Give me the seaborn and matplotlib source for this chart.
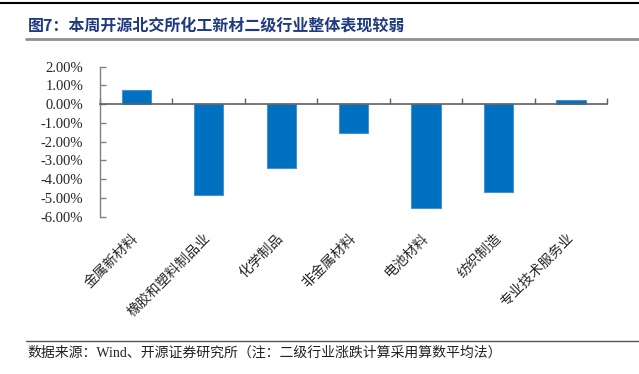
import matplotlib
matplotlib.use("Agg")
import matplotlib.pyplot as plt
import seaborn as sns
from matplotlib.lines import Line2D
from matplotlib.ticker import FixedLocator, FuncFormatter

categories = ["金属新材料", "橡胶和塑料制品业", "化学制品", "非金属材料",
              "电池材料", "纺织制造", "专业技术服务业"]
values = [0.75, -4.85, -3.41, -1.53, -5.51, -4.66, 0.20]
yticks = [2, 1, 0, -1, -2, -3, -4, -5, -6]
title = "图7：本周开源北交所化工新材二级行业整体表现较弱"
source = "数据来源：Wind、开源证券研究所（注：二级行业涨跌计算采用算数平均法）"

sns.set_style("white")
plt.rcParams["font.family"] = ["Liberation Serif", "Noto Sans CJK SC", "DejaVu Sans"]

W, H = 639, 374
fig = plt.figure(figsize=(W / 100, H / 100), dpi=100)
ax = fig.add_axes([100 / W, 1 - 216.7 / H, 507.3 / W, 150 / H])

sns.barplot(x=categories, y=values, color="#0070C0", width=0.405,
            edgecolor="#4A90D0", linewidth=0.8, saturation=1, ax=ax)

ax.set_ylim(-6, 2)
ax.set_xlim(-0.5, len(categories) - 0.5)
ax.set_xlabel("")
ax.set_ylabel("")

for s in ["top", "right"]:
    ax.spines[s].set_visible(False)
ax.spines["left"].set_color("#808080")
ax.spines["left"].set_linewidth(1.0)
ax.spines["bottom"].set_position(("data", 0))
ax.spines["bottom"].set_color("#606060")
ax.spines["bottom"].set_linewidth(1.2)

ax.yaxis.set_major_locator(FixedLocator(yticks))
ax.yaxis.set_major_formatter(FuncFormatter(lambda v, p: f"{v:.2f}%"))
ax.tick_params(axis="y", direction="in", length=4, width=1, color="#808080",
               labelsize=10.5, pad=12, left=True)

# category boundary ticks on zero line
ax.set_xticks([i - 0.5 for i in range(len(categories) + 1)])
ax.set_xticklabels([])
ax.tick_params(axis="x", direction="in", length=4, width=1, color="#606060",
               bottom=True)

# category labels below the plot area
sec = ax.secondary_xaxis(0)
sec.set_xticks(range(len(categories)))
sec.set_xticklabels(categories, rotation=45, ha="right", va="center",
                    rotation_mode="anchor", fontsize=10,
                    family=["Noto Sans CJK SC", "DejaVu Sans"])
sec.tick_params(axis="x", length=0, pad=14)
sec.spines["bottom"].set_visible(False)

# title, rules and source
fig.text(28 / W, 1 - 26 / H, title, fontsize=11.5, fontweight="bold",
         color="#1F3A80", va="center", ha="left",
         family=["Noto Sans CJK SC", "DejaVu Sans"])
fig.add_artist(Line2D([0, 1], [1 - 2.7 / H, 1 - 2.7 / H], color="#000000",
                      lw=1.5, transform=fig.transFigure))
fig.add_artist(Line2D([26 / W, 1], [1 - 39 / H, 1 - 39 / H], color="#909090",
                      lw=2, transform=fig.transFigure))
fig.add_artist(Line2D([26 / W, 1], [1 - 341 / H, 1 - 341 / H], color="#555555",
                      lw=1, transform=fig.transFigure))
fig.text(27 / W, 1 - 353 / H, source, fontsize=10, color="#222222",
         va="center", ha="left")

fig.savefig("out.png", dpi=100)
